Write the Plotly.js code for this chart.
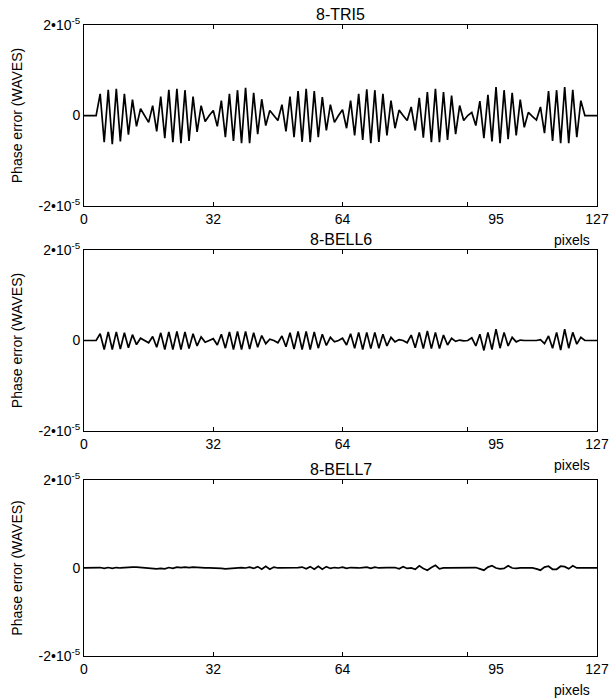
<!DOCTYPE html>
<html>
<head>
<meta charset="utf-8">
<script src="https://cdn.plot.ly/plotly-3.0.1.min.js"></script>
<style>html,body{margin:0;padding:0;background:#fff;}#chart{width:612px;height:698px;}</style>
</head>
<body>
<div id="chart"></div>
<script>
// Values in units of 1e-5 waves, one per pixel index 0..127
const pixels = Array.from({length: 128}, (_, i) => i);

const tri5 = [
  0, 0, 0, 0, 0.48, -0.59, 0.57, -0.63, 0.59, -0.57, 0.48, -0.42, 0.35, -0.24, 0.15, -0.01,
  -0.15, 0.22, -0.35, 0.42, -0.50, 0.57, -0.59, 0.59, -0.61, 0.56, -0.56, 0.42, -0.36, 0.22, -0.13, 0.0,
  0.11, -0.24, 0.33, -0.48, 0.48, -0.56, 0.56, -0.61, 0.61, -0.61, 0.50, -0.41, 0.36, -0.22, 0.11, 0.0,
  -0.11, 0.24, -0.35, 0.42, -0.48, 0.54, -0.58, 0.59, -0.59, 0.54, -0.48, 0.41, -0.33, 0.24, -0.15, 0.0,
  0.13, -0.28, 0.33, -0.44, 0.48, -0.54, 0.58, -0.61, 0.56, -0.58, 0.48, -0.44, 0.33, -0.28, 0.12, 0.0,
  -0.11, 0.19, -0.33, 0.39, -0.49, 0.52, -0.59, 0.59, -0.59, 0.52, -0.54, 0.44, -0.41, 0.22, -0.11, 0.0,
  0.07, -0.22, 0.32, -0.50, 0.46, -0.57, 0.63, -0.61, 0.56, -0.52, 0.50, -0.44, 0.35, -0.26, 0.07, -0.02,
  -0.10, 0.19, -0.39, 0.54, -0.56, 0.56, -0.61, 0.63, -0.61, 0.57, -0.48, 0.33, 0, 0, 0, 0
];

const bell6 = [
  0, 0, 0, 0, 0.15, -0.20, 0.19, -0.20, 0.19, -0.19, 0.17, -0.16, 0.13, -0.09, 0.05, 0.0,
  -0.05, 0.09, -0.15, 0.17, -0.20, 0.19, -0.20, 0.20, -0.20, 0.19, -0.18, 0.15, -0.12, 0.08, -0.04, 0.0,
  0.04, -0.10, 0.14, -0.17, 0.19, -0.20, 0.20, -0.20, 0.20, -0.19, 0.17, -0.15, 0.11, -0.07, 0.03, 0.0,
  -0.05, 0.10, -0.14, 0.17, -0.19, 0.20, -0.20, 0.20, -0.20, 0.19, -0.17, 0.14, -0.11, 0.07, -0.03, 0.0,
  0.05, -0.10, 0.15, -0.17, 0.18, -0.20, 0.18, -0.18, 0.18, -0.17, 0.14, -0.12, 0.07, -0.03, 0.02, 0.0,
  -0.05, 0.12, -0.16, 0.18, -0.18, 0.21, -0.18, 0.18, -0.18, 0.12, -0.10, 0.05, -0.02, 0.01, -0.01, 0.0,
  0.06, -0.12, 0.14, -0.22, 0.18, -0.20, 0.25, -0.17, 0.18, -0.12, 0.07, -0.03, 0.01, 0.0, 0.0, 0.0,
  0.0, 0.02, -0.07, 0.10, -0.17, 0.18, -0.21, 0.25, -0.17, 0.18, -0.08, 0.07, 0, 0, 0, 0
];

const bell7 = [
  0, 0, 0, 0, 0.01, -0.01, 0.01, -0.01, 0.01, 0, 0.01, 0.02, 0.02, 0.02, 0.01, 0.01,
  0, -0.01, -0.02, -0.01, -0.02, 0.01, -0.01, 0.02, 0.01, 0.02, 0.01, 0.02, 0.01, 0.01, 0, 0,
  0, -0.01, -0.01, -0.02, -0.01, -0.01, 0, 0.01, 0, 0.02, -0.01, 0.03, -0.03, 0.04, -0.03, 0.02,
  0, 0, 0.01, 0.01, 0, 0.01, 0.02, -0.02, 0.03, -0.03, 0.04, -0.03, 0.03, -0.01, 0.01, 0,
  0.02, -0.01, 0.01, 0, 0, 0.01, 0.02, -0.01, 0.02, 0, 0.01, 0.01, 0.01, 0.01, -0.02, 0.03,
  -0.01, 0, -0.03, 0.05, -0.01, -0.05, 0.01, 0.06, -0.02, 0, 0, 0, 0.01, 0, 0, 0,
  0, 0.01, -0.02, -0.05, 0.02, 0.05, 0, -0.02, -0.01, 0.05, 0, -0.01, 0, 0, 0, 0,
  -0.02, -0.05, 0.02, 0.04, -0.03, -0.03, 0.04, 0.03, -0.02, 0.05, 0, 0, 0, 0, 0, 0
];

const panelTitles = ['8-TRI5', '8-BELL6', '8-BELL7'];
const xTickVals = [0, 32, 64, 95, 127];          // tick marks
const xTickText = ['0', '32', '64', '95', '127'];
const xLabelAt = [0, 32, 64, 102, 127];          // where the printed labels sit (the "95" label is offset right in the original)
const yTickVals = [-2, 0, 2];
const yTickText = ['-2\u202210<sup>-5</sup>', '0', '2\u202210<sup>-5</sup>'];
const yTitle = 'Phase error (WAVES)';
const xUnit = 'pixels';

const FONT = 'Liberation Sans, Arial, Helvetica, sans-serif';
const series = [tri5, bell6, bell7];
const domains = [[0.713, 1.0], [0.357, 0.643], [0.0, 0.279]];

const traces = [];
series.forEach((s, k) => {
  const xs = k === 0 ? '' : String(k + 1);
  traces.push({
    x: pixels, y: s, type: 'scatter', mode: 'lines',
    xaxis: 'x' + xs, yaxis: 'y' + xs,
    line: {color: '#000', width: 1.7},
    hoverinfo: 'skip', showlegend: false
  });
  traces.push({
    x: [], y: [], type: 'scatter', mode: 'lines',
    xaxis: 'x' + (k + 4), yaxis: 'y' + xs,
    hoverinfo: 'skip', showlegend: false
  });
});

const layout = {
  width: 612, height: 698,
  margin: {l: 84, r: 15, t: 25, b: 42},
  paper_bgcolor: '#fff', plot_bgcolor: '#fff',
  font: {family: FONT, size: 14, color: '#000'},
  showlegend: false,
  annotations: []
};

for (let k = 0; k < 3; k++) {
  const xs = k === 0 ? '' : String(k + 1);
  layout['xaxis' + xs] = {
    domain: [0, 1], anchor: 'y' + xs, range: [0, 127],
    tickvals: xTickVals, ticktext: xTickText, showticklabels: false,
    ticks: 'inside', ticklen: 4, tickcolor: '#000', tickwidth: 1,
    mirror: 'ticks', showline: true, linecolor: '#000', linewidth: 1,
    showgrid: false, zeroline: false
  };
  layout['xaxis' + (k + 4)] = {
    overlaying: 'x' + xs, anchor: 'y' + xs, side: 'bottom', range: [0, 127],
    tickvals: xLabelAt, ticktext: xTickText,
    ticks: '', ticklabelstandoff: 3,
    showline: false, showgrid: false, zeroline: false,
    tickfont: {family: FONT, size: 14, color: '#000'}
  };
  layout['yaxis' + xs] = {
    domain: domains[k], anchor: 'x' + xs, range: [-2, 2],
    tickvals: yTickVals, ticktext: yTickText,
    ticks: 'inside', ticklen: 4, tickcolor: '#000', tickwidth: 1,
    mirror: 'ticks', showline: true, linecolor: '#000', linewidth: 1,
    showgrid: false, zeroline: false,
    tickfont: {family: FONT, size: 14, color: '#000'},
    title: {text: yTitle, font: {family: FONT, size: 14, color: '#000'}, standoff: 12}
  };
  layout.annotations.push({
    text: panelTitles[k], xref: 'x' + xs + ' domain', yref: 'y' + xs + ' domain',
    x: 0.5, y: 1, xanchor: 'center', yanchor: 'bottom', yshift: 0,
    showarrow: false, font: {family: FONT, size: 16, color: '#000'}
  });
  layout.annotations.push({
    text: xUnit, xref: 'x' + xs + ' domain', yref: 'y' + xs + ' domain',
    x: 0.99, y: 0, xanchor: 'right', yanchor: 'top', yshift: -24,
    showarrow: false, font: {family: FONT, size: 14, color: '#000'}
  });
}

Plotly.newPlot('chart', traces, layout, {displayModeBar: false, staticPlot: true});
</script>
</body>
</html>
